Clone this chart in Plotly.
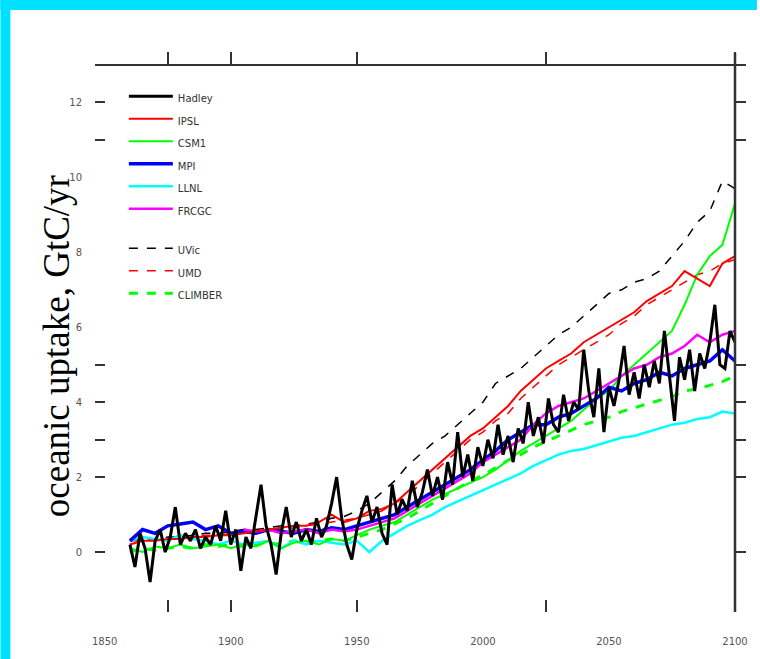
import plotly.graph_objects as go

# ---------------- data ----------------
years_annual = list(range(1860, 2101, 2))
years5 = list(range(1860, 2101, 5))
years_frcgc = list(range(1905, 2101, 5))

hadley = [
    0.2, -0.4, 0.5, 0.1, -0.8,
    0.3, 0.6, 0.0, 0.4, 1.2,
    0.2, 0.5, 0.3, 0.6, 0.1,
    0.4, 0.2, 0.7, 0.3, 1.1,
    0.2, 0.6, -0.5, 0.4, 0.1,
    1.0, 1.8, 0.7, 0.2, -0.6,
    0.5, 1.2, 0.4, 0.8, 0.3,
    0.6, 0.2, 0.9, 0.4, 0.7,
    1.3, 2.0, 0.9, 0.2, -0.2,
    0.6, 1.1, 1.5, 0.8, 1.2,
    0.5, 0.2, 1.8, 1.0, 1.4,
    1.1, 1.9, 1.2, 1.6, 2.2,
    1.5, 2.0, 1.4, 2.4, 1.8,
    3.2, 2.0, 2.6, 1.9, 2.8,
    2.3, 3.0, 2.5, 3.4, 2.6,
    3.1, 2.4, 3.3, 2.9, 4.0,
    3.1, 3.6, 2.9, 4.1, 3.4,
    3.2, 4.2, 3.5, 4.0, 3.8,
    5.4, 4.3, 3.6, 4.9, 3.2,
    4.4, 3.9, 4.6, 5.5, 4.2,
    4.8, 4.1, 5.0, 4.4, 5.1,
    4.5, 5.9, 4.7, 3.5, 5.2,
    4.6, 5.4, 4.3, 5.3, 4.9,
    5.6, 6.6, 5.0, 4.9, 5.9,
    5.6,
]

ipsl = [
    0.2, 0.3, 0.3, 0.35, 0.35, 0.4, 0.4, 0.45, 0.45, 0.5,
    0.55, 0.6, 0.65, 0.7, 0.7, 0.8, 1.0, 0.8, 0.9, 1.1,
    1.15, 1.3, 1.6, 1.9, 2.2, 2.5, 2.8, 3.1, 3.3, 3.6,
    3.9, 4.3, 4.6, 4.9, 5.1, 5.3, 5.6, 5.8, 6.0, 6.2,
    6.4, 6.7, 6.9, 7.1, 7.5, 7.3, 7.1, 7.7, 7.9,
]

csm1 = [
    0.1, 0.0, 0.15, 0.1, 0.2, 0.1, 0.15, 0.2, 0.1, 0.2,
    0.15, 0.3, 0.1, 0.25, 0.3, 0.2, 0.35, 0.3, 0.45, 0.6,
    0.7, 0.8, 1.0, 1.2, 1.4, 1.55, 1.7, 1.85, 2.0, 2.2,
    2.45, 2.7, 2.9, 3.1, 3.3, 3.5, 3.8, 4.1, 4.3, 4.7,
    5.0, 5.3, 5.6, 5.9, 6.6, 7.4, 7.9, 8.2, 9.3,
]

mpi = [
    0.3, 0.6, 0.5, 0.7, 0.75, 0.8, 0.6, 0.7, 0.5, 0.55,
    0.5, 0.6, 0.55, 0.5, 0.6, 0.55, 0.65, 0.6, 0.7, 0.8,
    0.9, 1.0, 1.2, 1.4, 1.6, 1.8, 2.0, 2.2, 2.45, 2.7,
    3.0, 3.2, 3.4, 3.4, 3.6, 3.7, 3.9, 4.1, 4.4, 4.3,
    4.5, 4.6, 4.8, 4.7, 4.9, 5.0, 5.1, 5.4, 5.1,
]

llnl = [
    0.3, 0.4, 0.35, 0.3, 0.45, 0.35, 0.3, 0.2, 0.3, 0.2,
    0.25, 0.3, 0.1, 0.3, 0.2, 0.3, 0.25, 0.2, 0.3, 0.0,
    0.3, 0.5, 0.7, 0.85, 1.0, 1.2, 1.35, 1.5, 1.65, 1.8,
    1.95, 2.1, 2.3, 2.45, 2.6, 2.7, 2.75, 2.85, 2.95, 3.05,
    3.1, 3.2, 3.3, 3.4, 3.45, 3.55, 3.6, 3.75, 3.7,
]

frcgc = [
    0.6, 0.55, 0.6, 0.5, 0.55, 0.6, 0.5, 0.6, 0.55, 0.6,
    0.7, 0.8, 0.9, 1.1, 1.3, 1.5, 1.7, 1.9, 2.1, 2.4,
    2.6, 2.8, 3.0, 3.4, 3.7, 3.9, 4.0, 4.1, 4.3, 4.5,
    4.7, 4.9, 5.0, 5.2, 5.3, 5.5, 5.8, 5.6, 5.8, 5.9,
]

uvic = [
    0.3, 0.35, 0.35, 0.4, 0.4, 0.45, 0.5, 0.5, 0.55, 0.6,
    0.6, 0.65, 0.7, 0.7, 0.75, 0.8, 0.9, 0.95, 1.1, 1.3,
    1.6, 1.9, 2.3, 2.6, 2.9, 3.1, 3.4, 3.7, 4.0, 4.5,
    4.7, 4.9, 5.2, 5.5, 5.8, 6.0, 6.3, 6.6, 6.9, 7.0,
    7.2, 7.3, 7.5, 7.9, 8.3, 8.8, 9.1, 9.9, 9.7,
]

umd = [
    0.3, 0.3, 0.35, 0.35, 0.4, 0.4, 0.45, 0.45, 0.5, 0.5,
    0.55, 0.6, 0.6, 0.65, 0.7, 0.75, 0.8, 0.85, 0.9, 1.0,
    1.1, 1.3, 1.5, 1.8, 2.1, 2.4, 2.7, 3.0, 3.2, 3.5,
    3.7, 4.1, 4.4, 4.7, 5.0, 5.2, 5.4, 5.6, 5.8, 6.1,
    6.3, 6.6, 6.8, 7.0, 7.2, 7.4, 7.5, 7.7, 7.8,
]

climber = [
    0.0, 0.1, 0.05, 0.1, 0.15, 0.1, 0.2, 0.15, 0.2, 0.15,
    0.2, 0.25, 0.2, 0.3, 0.25, 0.3, 0.35, 0.3, 0.4, 0.5,
    0.6, 0.75, 0.9, 1.1, 1.3, 1.5, 1.7, 1.9, 2.05, 2.25,
    2.45, 2.6, 2.8, 2.95, 3.1, 3.25, 3.4, 3.5, 3.6, 3.75,
    3.85, 3.95, 4.05, 4.15, 4.3, 4.35, 4.45, 4.55, 4.7,
]

x_label_vals = [1850, 1900, 1950, 2000, 2050, 2100]
x_label_text = ["1850", "1900", "1950", "2000", "2050", "2100"]
x_tick_marks = [1875, 1900, 1950, 2025, 2100]
y_label_vals = [0, 2, 4, 6, 8, 10, 12]
y_tick_marks = [0, 2, 3, 4, 5, 11, 12]

# ---------------- figure ----------------
AX = "#333333"
fig = go.Figure()

# (name, x, y, colour, width, dash, group, rank) -- drawn back to front
series = [
    ("UVic", years5, uvic, "black", 1.5, "dash", "b", 7),
    ("UMD", years5, umd, "#ff0000", 1.5, "dash", "b", 8),
    ("CLIMBER", years5, climber, "#00ff00", 3, "dash", "b", 9),
    ("LLNL", years5, llnl, "#00ffff", 2.5, "solid", "a", 5),
    ("CSM1", years5, csm1, "#00ff00", 2, "solid", "a", 3),
    ("MPI", years5, mpi, "#0000ff", 3.5, "solid", "a", 4),
    ("FRCGC", years_frcgc, frcgc, "#ff00ff", 2.5, "solid", "a", 6),
    ("IPSL", years5, ipsl, "#ff0000", 2, "solid", "a", 2),
    ("Hadley", years_annual, hadley, "black", 3, "solid", "a", 1),
]
for name, xs, ys, col, w, dash, grp, rank in series:
    fig.add_trace(go.Scatter(
        x=xs, y=ys, mode="lines", name=f"<span style='font-size:10px'>{name}</span>",
        line=dict(color=col, width=w, dash=dash),
        legendgroup=grp, legendrank=rank, hoverinfo="skip",
    ))

# invisible helper traces so the overlay axes are drawn
for xa, ya in [("x2", "y"), ("x3", "y"), ("x", "y2"), ("x", "y3")]:
    fig.add_trace(go.Scatter(x=[None], y=[None], xaxis=xa, yaxis=ya,
                             showlegend=False, hoverinfo="skip"))

XR = [1846.15, 2100]
YR = [-1.6, 13.0]
tickfont = dict(family="DejaVu Sans", size=10, color="#555555")

fig.update_layout(
    width=760, height=659,
    margin=dict(l=95, r=22, t=65, b=47),
    paper_bgcolor="white", plot_bgcolor="white",
    showlegend=True,
    legend=dict(
        x=(124 - 95) / 643, y=(612 - 80) / 547, xanchor="left", yanchor="top",
        bgcolor="rgba(0,0,0,0)", borderwidth=0, itemwidth=44,
        font=dict(family="DejaVu Sans", size=15, color="#333333"),
        traceorder="grouped", tracegroupgap=17,
    ),
    xaxis=dict(range=XR, tickvals=x_label_vals, ticktext=x_label_text,
               ticks="outside", ticklen=20, tickcolor="rgba(0,0,0,0)",
               showgrid=False, zeroline=False, showline=False, tickfont=tickfont),
    xaxis2=dict(range=XR, overlaying="x", matches="x", anchor="y", side="bottom",
                tickvals=x_tick_marks, ticks="inside", ticklen=12, tickwidth=2,
                tickcolor=AX, showticklabels=False, showgrid=False, zeroline=False),
    xaxis3=dict(range=XR, overlaying="x", matches="x", anchor="y", side="top",
                tickvals=x_tick_marks, ticks="outside", ticklen=12, tickwidth=2,
                tickcolor=AX, showticklabels=False, showgrid=False, zeroline=False),
    yaxis=dict(range=YR, tickvals=y_label_vals, ticks="outside", ticklen=10,
               tickcolor="rgba(0,0,0,0)", showgrid=False, zeroline=False,
               showline=False, tickfont=tickfont),
    yaxis2=dict(range=YR, overlaying="y", matches="y", anchor="x", side="left",
                tickvals=y_tick_marks, ticks="inside", ticklen=10, tickwidth=2,
                tickcolor=AX, showticklabels=False, showgrid=False, zeroline=False),
    yaxis3=dict(range=YR, overlaying="y", matches="y", anchor="x", side="right",
                tickvals=y_tick_marks, ticks="outside", ticklen=10, tickwidth=2,
                tickcolor=AX, showticklabels=False, showgrid=False, zeroline=False,
                showline=False),
)

# top frame line (extends a little beyond the plotting area)
fig.add_shape(type="line", xref="paper", yref="paper",
              x0=0, x1=(749 - 95) / 643, y0=1, y1=1,
              line=dict(color=AX, width=2))
# right frame line at the 2100 edge, poking slightly above the top line
fig.add_shape(type="line", xref="paper", yref="paper",
              x0=1, x1=1, y0=0, y1=(612 - 53) / 547,
              line=dict(color=AX, width=2.5))
# cyan page border (left and top)
fig.add_shape(type="rect", xref="paper", yref="paper",
              x0=-95 / 643, x1=(10 - 95) / 643, y0=-47 / 547, y1=612 / 547,
              fillcolor="#00e0ff", line=dict(width=0), layer="below")
fig.add_shape(type="rect", xref="paper", yref="paper",
              x0=-95 / 643, x1=(760 - 95) / 643, y0=(612 - 10) / 547, y1=612 / 547,
              fillcolor="#00e0ff", line=dict(width=0), layer="below")

fig.add_annotation(
    text="oceanic uptake, GtC/yr", textangle=-90,
    xref="paper", yref="paper", x=(56 - 95) / 643, y=(612 - 346) / 547,
    xanchor="center", yanchor="middle", showarrow=False,
    font=dict(family="Liberation Serif", size=37, color="black"),
)

fig.write_html("out.html")
